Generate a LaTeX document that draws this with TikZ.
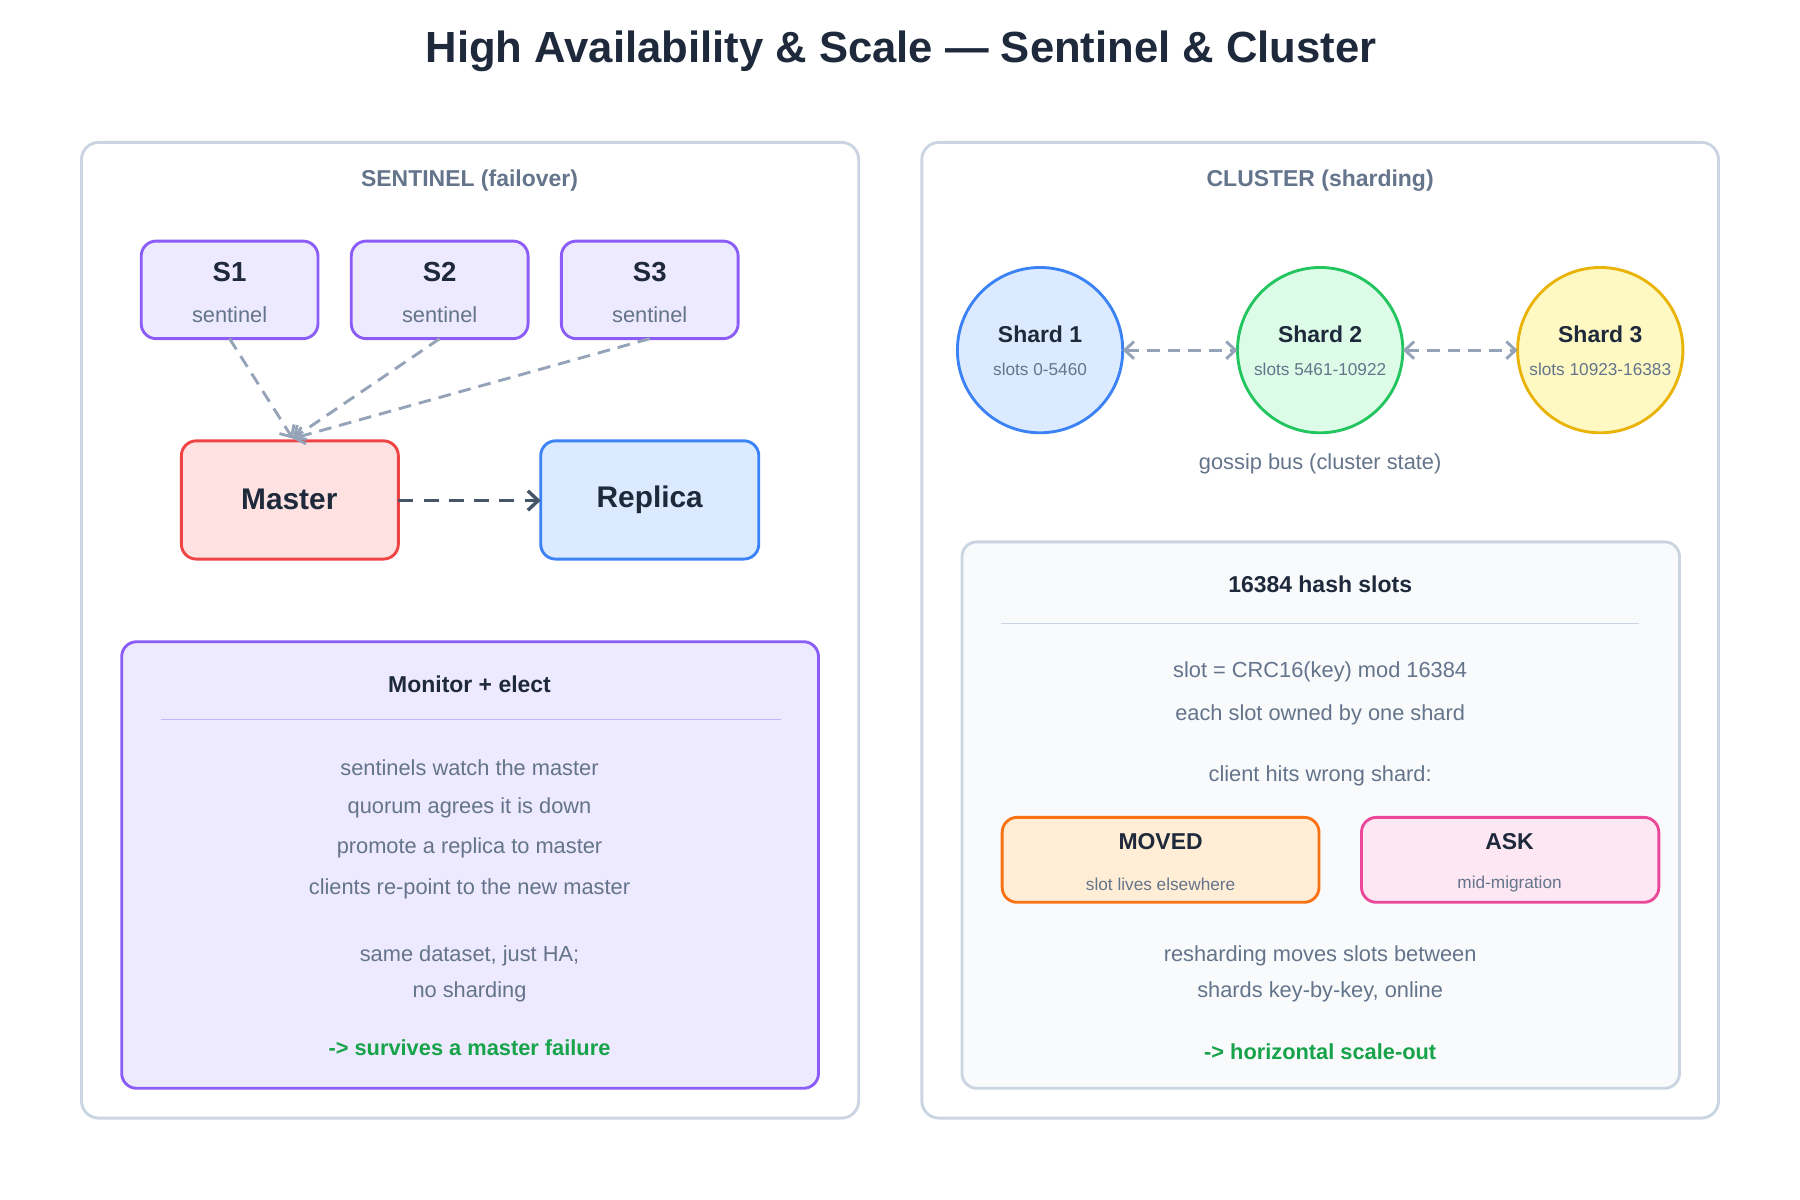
\documentclass[tikz,border=0pt]{standalone}
\usepackage{fontspec}
\setmainfont{Liberation Sans}
\usetikzlibrary{arrows.meta}
\definecolor{pborder}{HTML}{CBD5E1}
\definecolor{ptitle}{HTML}{64748B}
\definecolor{dark}{HTML}{1E293B}
\definecolor{vfill}{HTML}{EDE9FE}
\definecolor{vline}{HTML}{8B5CF6}
\definecolor{vsep}{HTML}{C4B5FD}
\definecolor{rfill}{HTML}{FEE2E2}
\definecolor{rline}{HTML}{EF4444}
\definecolor{bfill}{HTML}{DBEAFE}
\definecolor{bline}{HTML}{3B82F6}
\definecolor{gfill}{HTML}{DCFCE7}
\definecolor{gline}{HTML}{22C55E}
\definecolor{yfill}{HTML}{FEF9C3}
\definecolor{yline}{HTML}{EAB308}
\definecolor{ofill}{HTML}{FFEDD5}
\definecolor{oline}{HTML}{F97316}
\definecolor{kfill}{HTML}{FCE7F3}
\definecolor{kline}{HTML}{EC4899}
\definecolor{arr}{HTML}{94A3B8}
\definecolor{arrd}{HTML}{475569}
\definecolor{grn}{HTML}{16A34A}
\definecolor{slate}{HTML}{F8FAFC}
\newcommand{\fs}[1]{\fontsize{#1}{#1}\selectfont}
\tikzset{
 box/.style={draw, line width=2.5pt, rounded corners=13pt},
 txt/.style={text=ptitle, font=\fs{19}},
 btxt/.style={text=dark, font=\fs{20}\bfseries},
 tip/.tip={Straight Barb[length=8pt,width=15pt,line width=2.5pt]},
 ar/.style={draw=arr, line width=2.5pt, dash pattern=on 11pt off 7pt, -tip},
 dar/.style={draw=arr, line width=2.5pt, dash pattern=on 11pt off 7pt, tip-tip},
}
\begin{document}
\begin{tikzpicture}[x=1pt,y=-1pt]
\useasboundingbox (0,0) rectangle (1568,1045);
\node[text=dark, font=\fs{38}\bfseries] (title) at (785,45) {High Availability \& Scale — Sentinel \& Cluster};
% left panel
\draw[pborder, line width=2.5pt, rounded corners=15pt, fill=white] (71,124) rectangle (748,974);
\node[font=\fs{20}\bfseries, text=ptitle] (lt) at (409,157) {SENTINEL (failover)};
\foreach \n/\x in {1/200,2/383,3/566}{
 \draw[box, draw=vline, fill=vfill] (\x-77,210) rectangle (\x+77,295);
 \node[font=\fs{24}\bfseries, text=dark] (s\n) at (\x,237) {S\n};
 \node[txt, font=\fs{19}] (sl\n) at (\x,274) {sentinel};
 \coordinate (sb\n) at (\x,295);
}
\draw[box, draw=rline, fill=rfill] (158,384) rectangle (347,487);
\node[font=\fs{26}\bfseries, text=dark] (master) at (252,435) {Master};
\draw[box, draw=bline, fill=bfill] (471,384) rectangle (661,487);
\node[font=\fs{26}\bfseries, text=dark] (replica) at (566,435) {Replica};
\coordinate (mt) at (255,382);
\coordinate (mr) at (347,436);
\coordinate (rl) at (471,436);
\draw[ar] (sb1) -- (mt);
\draw[ar] (sb2) -- (mt);
\draw[ar] (sb3) -- (mt);
\draw[draw=arrd, line width=3pt, dash pattern=on 13pt off 9pt, -{Straight Barb[length=9pt,width=17pt,line width=3pt]}] (mr) -- (rl);
\draw[box, draw=vline, fill=vfill] (106,559) rectangle (713,948);
\node[btxt] (me) at (409,596) {Monitor + elect};
\draw[vsep, line width=1.2pt] (140,627) -- (680,627);
\node[txt] (l1) at (409,669) {sentinels watch the master};
\node[txt] (l2) at (409,704) {quorum agrees it is down};
\node[txt] (l3) at (409,739) {promote a replica to master};
\node[txt] (l4) at (409,774) {clients re-point to the new master};
\node[txt] (l5) at (409,833) {same dataset, just HA;};
\node[txt] (l6) at (409,864) {no sharding};
\node[font=\fs{19}\bfseries, text=grn] (l7) at (409,913) {-> survives a master failure};
% right panel
\draw[pborder, line width=2.5pt, rounded corners=15pt, fill=white] (803,124) rectangle (1497,974);
\node[font=\fs{20}\bfseries, text=ptitle] (rt) at (1150,157) {CLUSTER (sharding)};
\foreach \n/\x/\f/\l/\s in {1/906/bfill/bline/{slots 0-5460},2/1150/gfill/gline/{slots 5461-10922},3/1394/yfill/yline/{slots 10923-16383}}{
 \draw[draw=\l, fill=\f, line width=2.5pt] (\x,305) circle (72);
 \node[btxt] (sh\n) at (\x,291) {Shard \n};
 \node[txt, font=\fs{15}] (ss\n) at (\x,322) {\s};
}
\coordinate (c1r) at (978,305); \coordinate (c2l) at (1078,305);
\coordinate (c2r) at (1222,305); \coordinate (c3l) at (1322,305);
\draw[dar] (c1r) -- (c2l);
\draw[dar] (c2r) -- (c3l);
\node[txt] (gb) at (1150,404) {gossip bus (cluster state)};
\draw[box, draw=pborder, fill=slate] (838,472) rectangle (1463,948);
\node[btxt] (hs) at (1150,509) {16384 hash slots};
\draw[pborder, line width=1.2pt] (872,543) -- (1428,543);
\node[txt] (r1) at (1150,585) {slot = CRC16(key) mod 16384};
\node[txt] (r2) at (1150,623) {each slot owned by one shard};
\node[txt] (r3) at (1150,676) {client hits wrong shard:};
\draw[box, draw=oline, fill=ofill] (873,712) rectangle (1149,786);
\node[btxt] (mv) at (1011,733) {MOVED};
\node[txt, font=\fs{15}] (mv2) at (1011,770) {slot lives elsewhere};
\draw[box, draw=kline, fill=kfill] (1186,712) rectangle (1445,786);
\node[btxt] (ask) at (1315,733) {ASK};
\node[txt, font=\fs{15}] (ask2) at (1315,770) {mid-migration};
\node[txt] (r4) at (1150,833) {resharding moves slots between};
\node[txt] (r5) at (1150,864) {shards key-by-key, online};
\node[font=\fs{19}\bfseries, text=grn] (r6) at (1150,916) {-> horizontal scale-out};
\end{tikzpicture}
\end{document}
